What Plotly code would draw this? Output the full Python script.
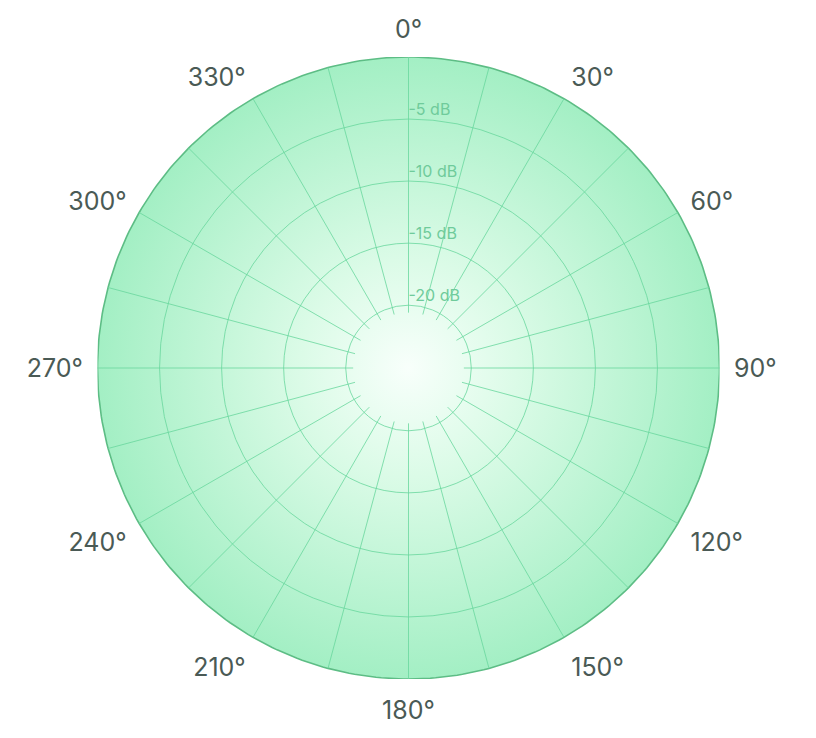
import numpy as np
import plotly.graph_objects as go

# angular ticks every 15 deg, labelled every 30 deg
angle_ticks = list(range(0, 360, 15))
angle_labels = [f"{a}°" if a % 30 == 0 else "" for a in angle_ticks]

# radial levels (dB)
db_levels = [-5, -10, -15, -20]
db_labels = [f"{v} dB" for v in db_levels]
db_range = [-20.6, 0]

# page has an 8px body margin, so keep the figure inside the window
W, H = 800, 722
cx, cy, R = 400.5, 360, 311  # centre / radius in px (figure coords, from top-left)
dom_x = [(cx - R) / W, (cx + R) / W]
dom_y = [(H - cy - R) / H, (H - cy + R) / H]

grid_col = "rgba(105, 215, 158, 0.8)"
line_col = "#5dbd85"

fig = go.Figure()

# radial gradient disc behind the polar plot (its edge is the outer border)
t = np.linspace(0, 2 * np.pi, 361)
fig.add_trace(go.Scatter(
    x=np.cos(t), y=np.sin(t),
    mode="lines", line=dict(width=1.6, color=line_col),
    fill="toself",
    fillgradient=dict(type="radial",
                      colorscale=[[0, "#f8fffb"], [0.35, "#dbfbe7"], [1, "#a3efc4"]]),
    hoverinfo="skip", showlegend=False,
    xaxis="x", yaxis="y",
))

# dB labels along the 0 deg spoke
fig.add_trace(go.Scatterpolar(
    r=db_levels, theta=[0] * len(db_levels),
    mode="text", text=db_labels, textposition="top right",
    textfont=dict(family="Inter", size=16, color="#6fcb9b"),
    hoverinfo="skip", showlegend=False,
))

fig.update_layout(
    width=W, height=H,
    margin=dict(l=0, r=0, t=0, b=0),
    paper_bgcolor="white",
    plot_bgcolor="rgba(0,0,0,0)",
    showlegend=False,
    xaxis=dict(domain=dom_x, range=[-1, 1], visible=False, fixedrange=True),
    yaxis=dict(domain=dom_y, range=[-1, 1], visible=False, fixedrange=True),
    polar=dict(
        domain=dict(x=dom_x, y=dom_y),
        bgcolor="rgba(0,0,0,0)",
        hole=0.178,
        angularaxis=dict(
            rotation=90, direction="clockwise",
            tickmode="array", tickvals=angle_ticks, ticktext=angle_labels,
            ticks="outside", ticklen=9, tickcolor="rgba(0,0,0,0)",
            showline=False,
            gridcolor=grid_col, gridwidth=1,
            tickfont=dict(family="Inter", size=25, color="#4a5a55"),
        ),
        radialaxis=dict(
            range=db_range, angle=90,
            tickmode="array", tickvals=db_levels,
            showticklabels=False, ticks="",
            showline=False,
            gridcolor=grid_col, gridwidth=1,
        ),
    ),
)

fig.write_html("out.html")
